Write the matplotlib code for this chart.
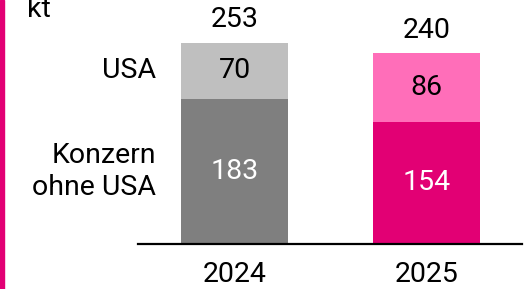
import matplotlib
matplotlib.use("Agg")
import matplotlib.pyplot as plt
from matplotlib.patches import Rectangle

years = ["2024", "2025"]
konzern_ohne_usa = [183, 154]
usa = [70, 86]
totals = [253, 240]
series_names = ["Konzern\nohne USA", "USA"]
unit = "kt"

colors_bottom = ["#7F7F7F", "#E20074"]
colors_top = ["#BFBFBF", "#FF6EB9"]

plt.rcParams['font.family'] = ['Roboto', 'DejaVu Sans']
FS = 20.5

W, H = 526, 289
fig = plt.figure(figsize=(W / 100, H / 100), dpi=100)
x0, x1 = 138, 522
y0 = 45
ax = fig.add_axes([x0 / W, y0 / H, (x1 - x0) / W, (H - y0) / H])
ax.set_xlim(-0.503, 1.497)
ax.set_ylim(0, 244 / 0.795)

xs = list(range(len(years)))
width = 0.557
ax.bar(xs, konzern_ohne_usa, width=width, color=colors_bottom, zorder=2)
ax.bar(xs, usa, width=width, bottom=konzern_ohne_usa, color=colors_top, zorder=2)

for i in xs:
    ax.text(i, konzern_ohne_usa[i] / 2, str(konzern_ohne_usa[i]), ha="center", va="center",
            color="white", fontsize=FS)
    ax.text(i, konzern_ohne_usa[i] + usa[i] / 2, str(usa[i]), ha="center", va="center",
            color="black", fontsize=FS)
    ax.text(i, totals[i] + 29, str(totals[i]), ha="center", va="center",
            color="black", fontsize=FS, clip_on=False)

ax.text(-0.41, konzern_ohne_usa[0] / 2, series_names[0], ha="right", va="center",
        fontsize=FS, linespacing=1.25)
ax.text(-0.41, konzern_ohne_usa[0] + usa[0] / 2, series_names[1], ha="right", va="center",
        fontsize=FS)

for s in ["top", "right", "left"]:
    ax.spines[s].set_visible(False)
ax.spines["bottom"].set_linewidth(1.6)
ax.spines["bottom"].set_color("black")
ax.set_yticks([])
ax.set_xticks(xs)
ax.set_xticklabels(years, fontsize=FS)
ax.tick_params(axis="x", length=0, pad=12)

fig.text(27 / W, 1 - 17 / H, unit, ha="left", va="baseline", fontsize=FS)
fig.patches.append(Rectangle((0, 0), 4 / W, 1, transform=fig.transFigure,
                             color="#E20074", zorder=0))

fig.savefig("out.png", dpi=100)
